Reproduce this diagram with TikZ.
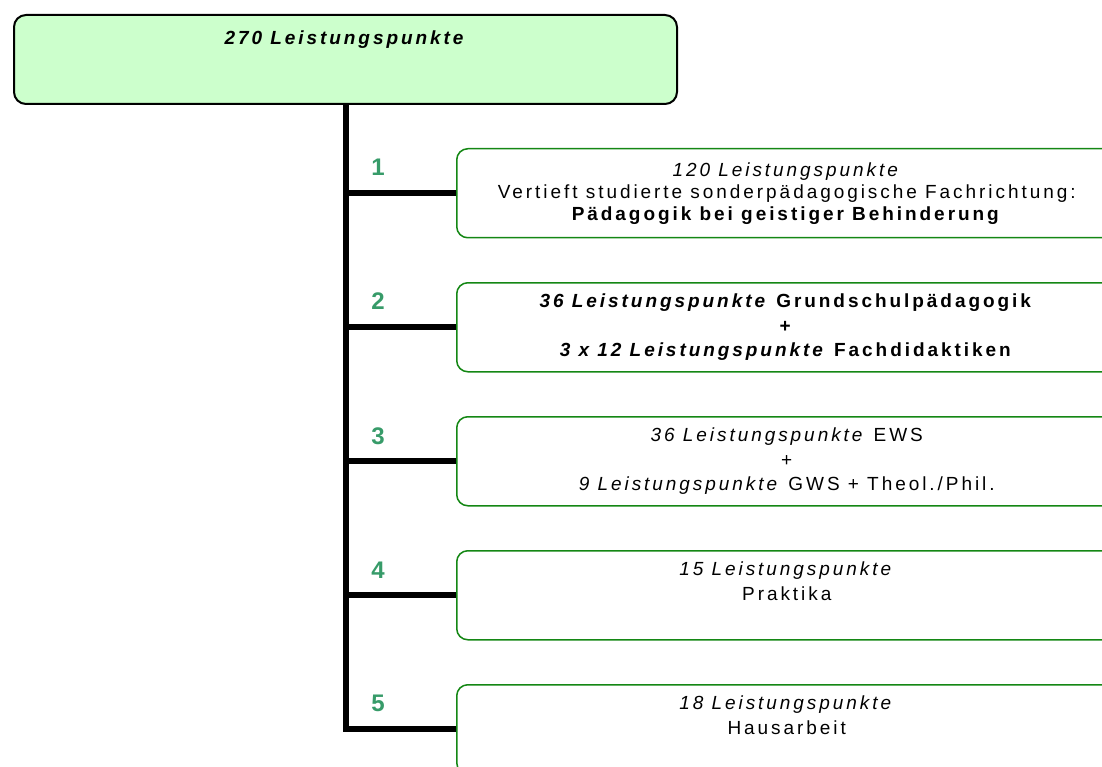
\documentclass[tikz,border=0pt]{standalone}
\usepackage{fontspec}
\setmainfont{Liberation Sans}[LetterSpace=15.5]
\usetikzlibrary{positioning}
\definecolor{topfill}{RGB}{204,255,204}
\definecolor{boxline}{RGB}{20,135,20}
\definecolor{numcol}{RGB}{55,155,105}
\newcommand{\boxtext}[1]{\parbox[c][81pt][t]{652pt}{\centering\rule{0pt}{21pt}#1}}

\begin{document}
\begin{tikzpicture}[x=1pt,y=-1pt,
  topbox/.style={draw=black,line width=2pt,fill=topfill,rounded corners=12pt,inner sep=4pt,anchor=north west},
  partbox/.style={draw=boxline,line width=1.5pt,rounded corners=11pt,inner sep=4pt,anchor=north west},
  num/.style={text=numcol,font=\fontsize{24}{24}\selectfont\bfseries},
  trunk/.style={line width=6pt}]
  \fontsize{19}{24.5}\selectfont
  \useasboundingbox (0,0) rectangle (1102,767);
  \clip (0,0) rectangle (1102,767);
%% total
  \node[topbox] (total) at (13,14) {\parbox[c][81pt][t]{655pt}{\centering\rule{0pt}{26pt}\textbf{\textit{270 Leistungspunkte}}}};
%% parts
  \node[partbox] (p1) at (456,148) {\boxtext{\fontsize{19}{22}\selectfont\rule{0pt}{24pt}\textit{120 Leistungspunkte}\\
    Vertieft studierte sonderpädagogische Fachrichtung:\\
    \textbf{Pädagogik bei geistiger Behinderung}}};
  \node[partbox] (p2) at (456,282) {\boxtext{\textbf{\textit{36 Leistungspunkte} Grundschulpädagogik}\\
    \textbf{+}\\
    \textbf{\textit{3 x 12 Leistungspunkte} Fachdidaktiken}}};
  \node[partbox] (p3) at (456,416) {\boxtext{\textit{36 Leistungspunkte} EWS\\
    +\\
    \textit{9 Leistungspunkte} GWS + Theol./Phil.}};
  \node[partbox] (p4) at (456,550) {\boxtext{\textit{15 Leistungspunkte}\\ Praktika}};
  \node[partbox] (p5) at (456,684) {\boxtext{\textit{18 Leistungspunkte}\\ Hausarbeit}};
%% numbers
  \foreach \i/\y in {1/167,2/301,3/436,4/570,5/703}
    \node[num] (n\i) at (378,\y) {\i};
%% trunk and branches
  \draw[trunk] (total.south) |- (p5.west);
  \foreach \i in {1,...,4}
    \draw[trunk] (total.south |- p\i.west) -- (p\i.west);
\end{tikzpicture}
\end{document}
